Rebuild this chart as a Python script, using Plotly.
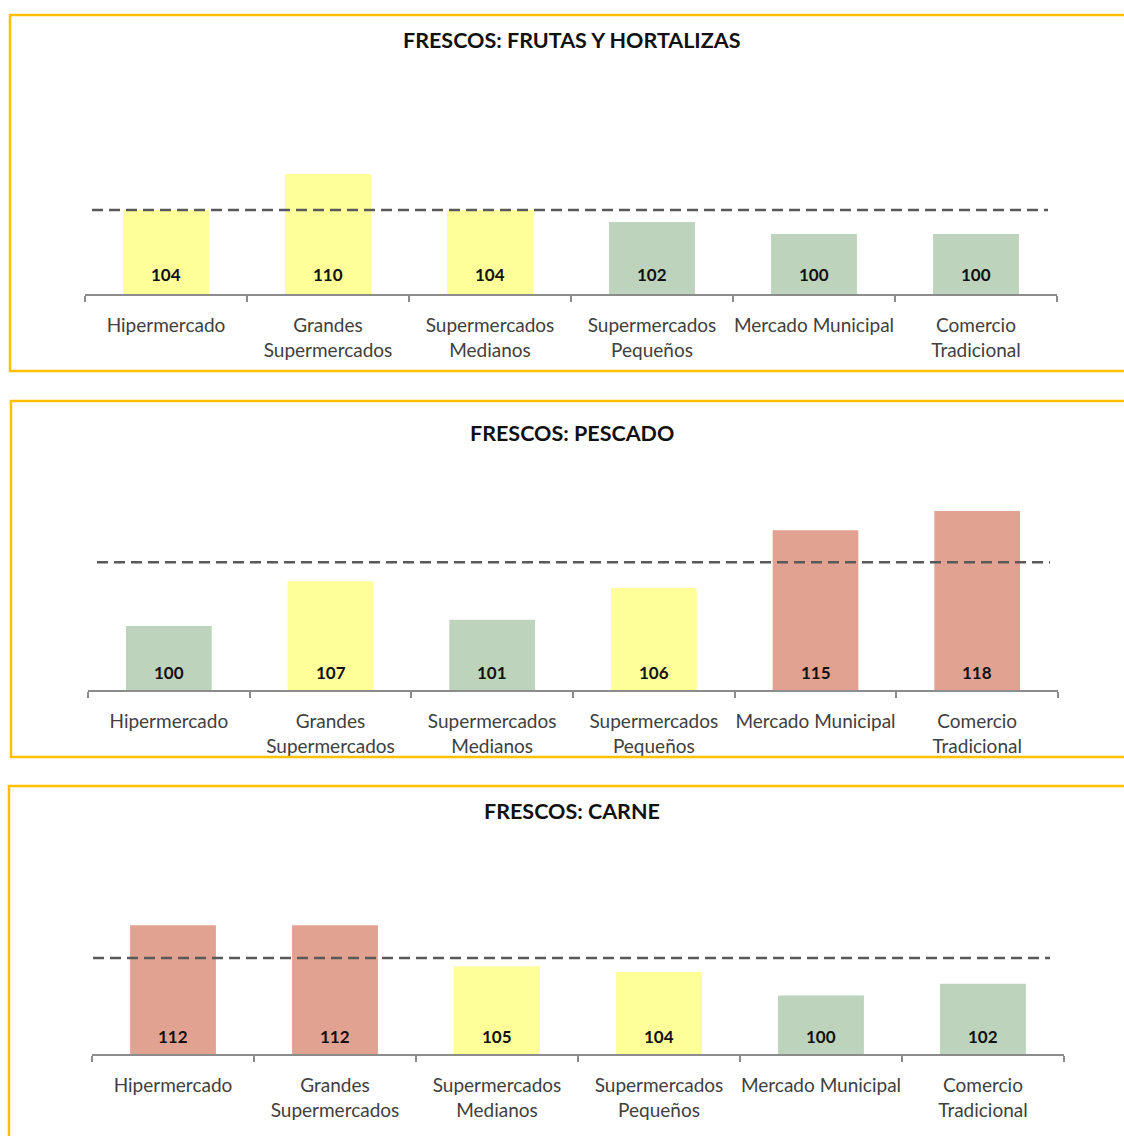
import plotly.graph_objects as go

# Category labels shared by the three panels
categories = [
    "Hipermercado",
    "Grandes<br>Supermercados",
    "Supermercados<br>Medianos",
    "Supermercados<br>Pequeños",
    "Mercado Municipal",
    "Comercio<br>Tradicional",
]

# Panel titles
titles = [
    "FRESCOS: FRUTAS Y HORTALIZAS",
    "FRESCOS: PESCADO",
    "FRESCOS: CARNE",
]

# Price index per store type
frutas_values = [104, 110, 104, 102, 100, 100]
pescado_values = [100, 107, 101, 106, 115, 118]
carne_values = [112, 112, 105, 104, 100, 102]

# Colour class of every bar: "y" = yellow, "g" = green, "r" = red
frutas_classes = ["y", "y", "y", "g", "g", "g"]
pescado_classes = ["g", "y", "g", "y", "r", "r"]
carne_classes = ["r", "r", "y", "y", "g", "g"]

# Dashed reference level in each panel
reference_levels = [104, 110, 106.4]

# Axis floor shared by the panels
axis_floor = 90

CLASS_COLORS = {"y": "#FFFF99", "g": "#BED3BC", "r": "#E2A291"}
W, H = 1124, 1136


def px_x(v):
    return v / W


def px_y(v):
    return 1 - v / H


# Layout of each panel in pixels: border box, plot area, y-axis top,
# horizontal extent of the dashed line
panels = [
    dict(values=frutas_values, classes=frutas_classes,
         box=(10, 15, 1140, 371), plot=(85, 60, 1057, 294), ytop=129.0,
         title_y=40, label_shift=20, dash_x=(92, 1048)),
    dict(values=pescado_values, classes=pescado_classes,
         box=(11, 401, 1140, 757), plot=(88, 450, 1058, 690), ytop=127.56,
         title_y=433, label_shift=18, dash_x=(97, 1050)),
    dict(values=carne_values, classes=carne_classes,
         box=(9, 786, 1140, 1150), plot=(92, 830, 1064, 1054), ytop=128.3,
         title_y=811, label_shift=18, dash_x=(93, 1050)),
]

fig = go.Figure()
shapes = []
annotations = []

for i, p in enumerate(panels):
    n = i + 1
    xa = "x" if n == 1 else f"x{n}"
    ya = "y" if n == 1 else f"y{n}"
    x0, y0, x1, y1 = p["plot"]

    fig.add_trace(go.Bar(
        x=categories, y=p["values"],
        marker=dict(color=[CLASS_COLORS[c] for c in p["classes"]], line=dict(width=0)),
        width=0.53, xaxis=xa, yaxis=ya, showlegend=False, hoverinfo="x+y",
    ))

    axis_common = dict(
        domain=[px_x(x0), px_x(x1)],
        type="category",
        range=[-0.5, 5.5],
        showline=True, linecolor="#8C8C8C", linewidth=2,
        ticks="outside", tickson="boundaries", ticklen=6, tickwidth=1.5,
        tickcolor="#8C8C8C",
        tickfont=dict(family="Lato", size=19, color="#404040"),
        tickangle=0,
        ticklabelstandoff=13,
        automargin=False,
        showgrid=False, zeroline=False, fixedrange=True,
        anchor=ya,
    )
    yaxis_common = dict(
        domain=[px_y(y1), px_y(y0)],
        range=[axis_floor, p["ytop"]],
        visible=False, showgrid=False, zeroline=False, fixedrange=True,
        automargin=False,
        anchor=xa,
    )
    fig.update_layout(**{
        ("xaxis" if n == 1 else f"xaxis{n}"): axis_common,
        ("yaxis" if n == 1 else f"yaxis{n}"): yaxis_common,
    })

    # Value labels near the bottom of each bar
    for cat, v in zip(categories, p["values"]):
        annotations.append(dict(
            x=cat, y=axis_floor, xref=xa, yref=ya, text=str(v),
            showarrow=False, yanchor="middle", yshift=p["label_shift"],
            font=dict(family="Lato", size=17, color="#111111", weight="bold"),
        ))

    # Dashed reference line
    dx0, dx1 = p["dash_x"]
    shapes.append(dict(
        type="line", xref=f"{xa} domain", yref=ya,
        x0=(dx0 - x0) / (x1 - x0), x1=(dx1 - x0) / (x1 - x0),
        y0=reference_levels[i], y1=reference_levels[i],
        line=dict(color="#595959", width=2.5, dash="11px,6px"),
        layer="above",
    ))

    # Panel border
    bx0, by0, bx1, by1 = p["box"]
    shapes.append(dict(
        type="rect", xref="paper", yref="paper",
        x0=px_x(bx0), x1=px_x(bx1), y0=px_y(by1), y1=px_y(by0),
        line=dict(color="#FFC000", width=2.5), fillcolor="rgba(0,0,0,0)",
        layer="above",
    ))

    # Panel title
    annotations.append(dict(
        x=px_x(572), y=px_y(p["title_y"]), xref="paper", yref="paper",
        text=titles[i], showarrow=False, xanchor="center", yanchor="middle",
        font=dict(family="Lato", size=21.5, color="#111111", weight="bold"),
    ))

fig.update_layout(
    width=W, height=H,
    margin=dict(l=0, r=0, t=0, b=0, autoexpand=False),
    paper_bgcolor="white", plot_bgcolor="white",
    shapes=shapes, annotations=annotations,
    bargap=0.47,
)

fig.write_html("out.html")
